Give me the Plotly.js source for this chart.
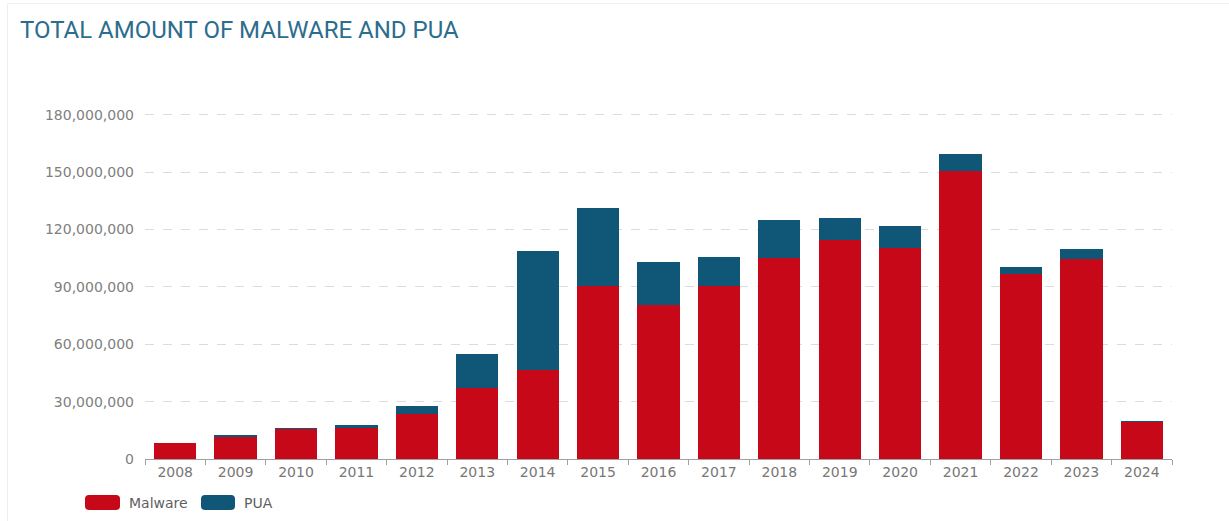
<!DOCTYPE html>
<html>
<head>
<meta charset="utf-8">
<script src="https://cdn.plot.ly/plotly-3.0.1.min.js"></script>
<style>html,body{margin:0;padding:0;background:#fff;}#chart{width:1229px;height:521px;}</style>
</head>
<body>
<div id="chart"></div>
<script>
const years = ["2008","2009","2010","2011","2012","2013","2014","2015","2016","2017","2018","2019","2020","2021","2022","2023","2024"];
const malware = [8.3e6, 11.7e6, 15.5e6, 16.2e6, 23.6e6, 37.3e6, 46.6e6, 90.4e6, 80.6e6, 90.4e6, 105.2e6, 114.3e6, 110.5e6, 150.8e6, 96.9e6, 104.7e6, 19.2e6];
const pua = [0.3e6, 0.9e6, 0.9e6, 1.8e6, 4.3e6, 17.7e6, 62.3e6, 41.0e6, 22.2e6, 15.5e6, 19.8e6, 11.5e6, 11.3e6, 8.9e6, 3.3e6, 4.9e6, 0.8e6];
const yTicks = [0, 30e6, 60e6, 90e6, 120e6, 150e6, 180e6];
const yTickLabels = ["0","30,000,000","60,000,000","90,000,000","120,000,000","150,000,000","180,000,000"];
const seriesNames = ["Malware","PUA"];
const colors = ["#c60818","#0f5677"];

const W = 1229, H = 521;
const M = {l:145, r:57, t:111, b:62};
const PW = W - M.l - M.r, PH = H - M.t - M.b;
const px = v => (v - M.l)/PW;
const py = v => (H - M.b - v)/PH;

const traces = [
  {type:"bar", x:years, y:malware, name:seriesNames[0], marker:{color:colors[0], line:{width:0}}, hoverinfo:"skip"},
  {type:"bar", x:years, y:pua, name:seriesNames[1], marker:{color:colors[1], line:{width:0}}, hoverinfo:"skip"}
];

function rrect(x0,y0,x1,y1,r){
  return `M ${px(x0+r)},${py(y0)} L ${px(x1-r)},${py(y0)} Q ${px(x1)},${py(y0)} ${px(x1)},${py(y0+r)} L ${px(x1)},${py(y1-r)} Q ${px(x1)},${py(y1)} ${px(x1-r)},${py(y1)} L ${px(x0+r)},${py(y1)} Q ${px(x0)},${py(y1)} ${px(x0)},${py(y1-r)} L ${px(x0)},${py(y0+r)} Q ${px(x0)},${py(y0)} ${px(x0+r)},${py(y0)} Z`;
}

const legendItems = [
  {x0:85, x1:120, tx:127},
  {x0:201, x1:235, tx:242}
];
const shapes = [
  {type:"line", xref:"paper", yref:"paper", x0:px(7.5), x1:px(7.5), y0:py(521), y1:py(3.5), line:{color:"#eeeeee", width:1}},
  {type:"line", xref:"paper", yref:"paper", x0:px(7.5), x1:px(1229), y0:py(3.5), y1:py(3.5), line:{color:"#f2f2f2", width:1}}
];
const annotations = [];
legendItems.forEach((it,i)=>{
  shapes.push({type:"path", xref:"paper", yref:"paper", path:rrect(it.x0,495,it.x1,510,4), fillcolor:colors[i], line:{width:0}});
  annotations.push({xref:"paper", yref:"paper", x:px(it.tx), y:py(502.5), xanchor:"left", yanchor:"middle", text:seriesNames[i], showarrow:false, font:{family:"DejaVu Sans, Arial, sans-serif", size:14, color:"#5f5f5f"}});
});

const layout = {
  width:W, height:H,
  margin:M,
  paper_bgcolor:"#fff", plot_bgcolor:"#fff",
  barmode:"stack", bargap:0.3,
  showlegend:false,
  title:{text:"TOTAL AMOUNT OF MALWARE AND PUA", xref:"container", yref:"container", x:20/W, xanchor:"left", y:1-30/H, yanchor:"middle", font:{family:"Roboto, sans-serif", size:24, color:"#2c6d8d"}},
  xaxis:{type:"category", showline:true, linecolor:"#a0a0a0", linewidth:1, ticks:"outside", tickson:"boundaries", ticklen:5, tickcolor:"#a0a0a0", showgrid:false, zeroline:false, tickfont:{family:"DejaVu Sans, Arial, sans-serif", size:14, color:"#777"}, fixedrange:true},
  yaxis:{range:[0,182e6], tickvals:yTicks, ticktext:yTickLabels, showline:false, zeroline:false, showgrid:true, gridcolor:"#dcdcdc", griddash:"dash", gridwidth:1, ticks:"", ticklabelstandoff:10, tickfont:{family:"DejaVu Sans, Arial, sans-serif", size:14, color:"#808080"}, fixedrange:true},
  shapes:shapes,
  annotations:annotations
};
Plotly.newPlot("chart", traces, layout, {displayModeBar:false, staticPlot:true});
</script>
</body>
</html>
